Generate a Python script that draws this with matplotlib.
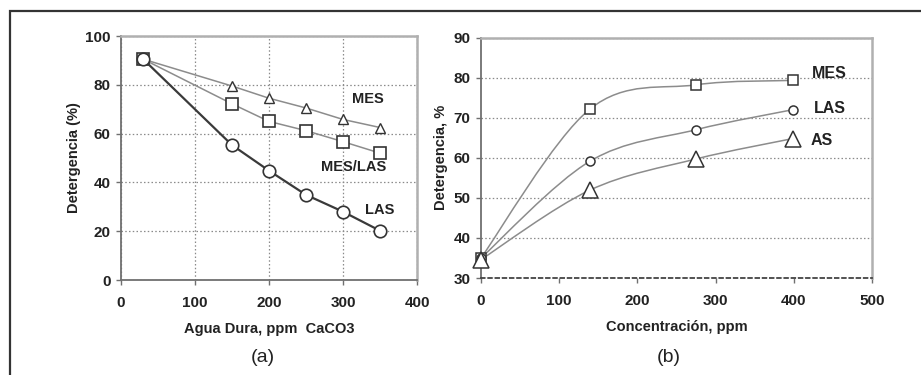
import numpy as np
import matplotlib
matplotlib.use("Agg")
import matplotlib.pyplot as plt
from matplotlib.path import Path
from matplotlib.patches import PathPatch, Rectangle

plt.rcParams['font.family'] = ['Liberation Sans', 'DejaVu Sans']

# ---- Panel (a) data ----
a_x = [30, 150, 200, 250, 300, 350]
a_mes = [90.5, 79.5, 74.5, 70.5, 65.8, 62.5]
a_meslas = [90.5, 72.2, 65.0, 61.2, 56.7, 52.0]
a_las = [90.5, 55.3, 44.8, 34.9, 28.0, 20.2]
a_xticks = [0, 100, 200, 300, 400]
a_yticks = [0, 20, 40, 60, 80, 100]

# ---- Panel (b) data ----
b_x = [0, 139, 275, 399]
b_mes = [35, 72.1, 78.2, 79.3]
b_las = [35, 59.1, 67.0, 72.0]
b_as = [34.6, 51.9, 59.7, 64.8]
b_xticks = [0, 100, 200, 300, 400, 500]
b_yticks = [30, 40, 50, 60, 70, 80, 90]

fig = plt.figure(figsize=(9.21, 3.75), dpi=100)

# outer frame (left/top visible, rest clipped)
fig.patches.append(Rectangle((9.5/921, -0.1), 1.2, 1 - 10.5/375 + 0.1,
                             transform=fig.transFigure, fill=False,
                             edgecolor='#333333', linewidth=1.6))

lab_font = dict(fontweight='bold', color='#222222')


def style_axes(ax):
    for s in ['top', 'right']:
        ax.spines[s].set_color('#b0b0b0')
        ax.spines[s].set_linewidth(1.8)
    for s in ['left', 'bottom']:
        ax.spines[s].set_color('#707070')
        ax.spines[s].set_linewidth(1.3)
    ax.tick_params(direction='out', length=3.5, width=1, color='#707070')
    for lab in ax.get_xticklabels() + ax.get_yticklabels():
        lab.set_fontsize(11)
        lab.set_fontweight('bold')
        lab.set_color('#222222')


def smooth_path(xs, ys):
    pts = np.column_stack([xs, ys]).astype(float)
    n = len(pts)
    verts = [pts[0]]
    codes = [Path.MOVETO]
    for i in range(n - 1):
        p0 = pts[i - 1] if i > 0 else pts[i]
        p1 = pts[i]
        p2 = pts[i + 1]
        p3 = pts[i + 2] if i + 2 < n else pts[i + 1]
        c1 = p1 + (p2 - p0) / 6.0
        c2 = p2 - (p3 - p1) / 6.0
        verts += [c1, c2, p2]
        codes += [Path.CURVE4] * 3
    return Path(verts, codes)


# ---------------- Panel (a) ----------------
ax1 = fig.add_axes([121/921, 1 - 280/375, (417-121)/921, (280-36)/375])
ax1.set_xlim(0, 400)
ax1.set_ylim(0, 100)
ax1.set_xticks(a_xticks)
ax1.set_yticks(a_yticks)
ax1.grid(True, linestyle=(0, (1.2, 1.8)), color='#8a8a8a', linewidth=0.9)
ax1.set_axisbelow(True)

ax1.plot(a_x, a_mes, color='#8c8c8c', lw=1.1, marker='^', ms=7,
         mfc='white', mec='#333333', mew=1.0, zorder=3)
ax1.plot(a_x, a_meslas, color='#8c8c8c', lw=1.1, marker='s', ms=9,
         mfc='white', mec='#333333', mew=1.2, zorder=3)
ax1.plot(a_x, a_las, color='#3a3a3a', lw=1.6, marker='o', ms=9,
         mfc='white', mec='#333333', mew=1.2, zorder=4)

ax1.text(334, 74.2, 'MES', ha='center', va='center', fontsize=10.5, **lab_font)
ax1.text(315, 46.3, 'MES/LAS', ha='center', va='center', fontsize=10.5, **lab_font)
ax1.text(350, 28.7, 'LAS', ha='center', va='center', fontsize=10.5, **lab_font)

style_axes(ax1)
ax1.tick_params(axis='x', pad=8)
ax1.tick_params(axis='y', pad=4)
ax1.set_xlabel('Agua Dura, ppm  CaCO3', fontsize=10.5, labelpad=9, **lab_font)
ax1.set_ylabel('Detergencia (%)', fontsize=10.5, labelpad=3, **lab_font)
fig.text(263/921, 1 - 357/375, '(a)', ha='center', va='center',
         fontsize=14, color='#222222')

# ---------------- Panel (b) ----------------
ax2 = fig.add_axes([481/921, 1 - 278/375, (872-481)/921, (278-37.5)/375])
ax2.set_xlim(0, 500)
ax2.set_ylim(30, 90)
ax2.set_xticks(b_xticks)
ax2.set_yticks(b_yticks)
ax2.grid(True, axis='y', linestyle=(0, (1.2, 1.8)), color='#8a8a8a',
         linewidth=0.9)
ax2.set_axisbelow(True)

for ys, mk, ms in [(b_mes, 's', 6.5), (b_las, 'o', 6.5), (b_as, '^', 12)]:
    ax2.add_patch(PathPatch(smooth_path(b_x, ys), facecolor='none',
                            edgecolor='#8c8c8c', lw=1.1, zorder=3))
    ax2.plot(b_x, ys, linestyle='none', marker=mk, ms=ms, mfc='white',
             mec='#333333', mew=1.1, zorder=4, clip_on=False)

ax2.text(446, 81.1, 'MES', ha='center', va='center', fontsize=11.5, **lab_font)
ax2.text(446, 72.4, 'LAS', ha='center', va='center', fontsize=11.5, **lab_font)
ax2.text(436, 64.4, 'AS', ha='center', va='center', fontsize=11.5, **lab_font)

style_axes(ax2)
ax2.spines['bottom'].set_linestyle((0, (2, 2)))
ax2.spines['bottom'].set_color('#444444')
ax2.tick_params(axis='x', pad=8)
ax2.tick_params(axis='y', pad=4)
ax2.set_xlabel('Concentración, ppm', fontsize=10.5, labelpad=9, **lab_font)
ax2.set_ylabel('Detergencia, %', fontsize=10.5, labelpad=4, **lab_font)
fig.text(669/921, 1 - 357/375, '(b)', ha='center', va='center',
         fontsize=14, color='#222222')

fig.savefig('out.png', dpi=100, facecolor='white')
